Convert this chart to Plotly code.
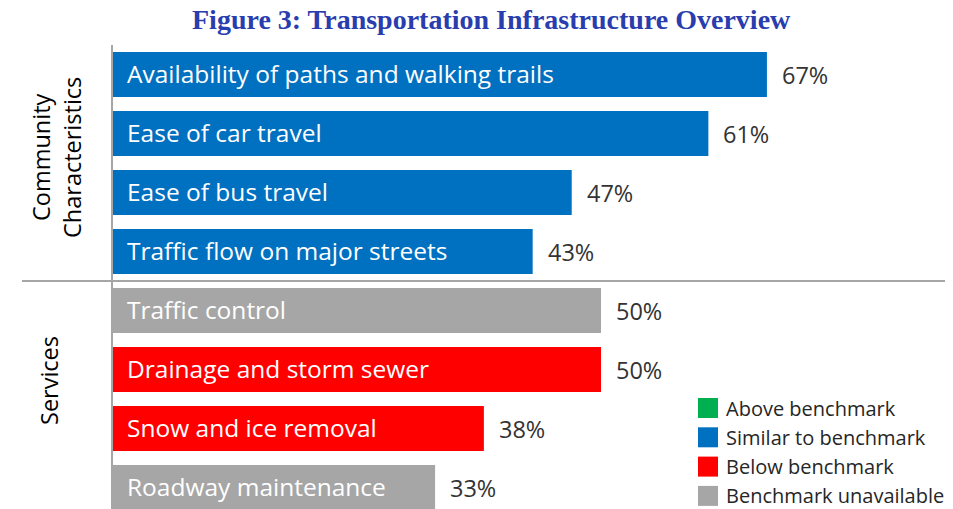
import plotly.graph_objects as go

categories = ["Availability of paths and walking trails", "Ease of car travel",
              "Ease of bus travel", "Traffic flow on major streets",
              "Traffic control", "Drainage and storm sewer",
              "Snow and ice removal", "Roadway maintenance"]
values = [67, 61, 47, 43, 50, 50, 38, 33]
statuses = ["Similar", "Similar", "Similar", "Similar",
            "Unavailable", "Below", "Below", "Unavailable"]
groups = ["Community<br>Characteristics", "Services"]
group_sizes = [4, 4]
legend_keys = ["Above", "Similar", "Below", "Unavailable"]
legend_labels = ["Above benchmark", "Similar to benchmark",
                 "Below benchmark", "Benchmark unavailable"]
colors = {"Above": "#00B050", "Similar": "#0070C0",
          "Below": "#FF0000", "Unavailable": "#A6A6A6"}

# page body has an 8px margin; work in page pixels and convert
OFF = 8
W, H = 953 - OFF, 509 - OFF
L, T = 113 - OFF, 45 - OFF
PW, PH = W - L, H - T
px_per_pct = 9.76
row_px = 59.0


def px_x(px):
    return (px - OFF - L) / PW


def px_y(py):
    return 1 - (py - OFF - T) / PH


ypos = list(range(len(categories)))
fig = go.Figure()
fig.add_trace(go.Bar(
    x=values, y=ypos, orientation="h", width=0.76,
    marker=dict(color=[colors[s] for s in statuses], line=dict(width=0)),
    hoverinfo="skip", showlegend=False))

body_font = "Open Sans, Calibri, sans-serif"
ann = []
for i, (c, v) in enumerate(zip(categories, values)):
    ann.append(dict(x=0, y=i, xref="x", yref="y", text=c, showarrow=False,
                    xanchor="left", yanchor="middle", xshift=12, yshift=1,
                    font=dict(family=body_font, size=24.5, color="#FFFFFF")))
    ann.append(dict(x=v, y=i, xref="x", yref="y", text=f"{v}%", showarrow=False,
                    xanchor="left", yanchor="middle", xshift=13, yshift=0,
                    font=dict(family=body_font, size=23.5, color="#333333")))

shapes = []
start = 0
gshift = [5, 18]
gx = [px_x(56), px_x(49)]
for gi, (g, n) in enumerate(zip(groups, group_sizes)):
    mid = start + (n - 1) / 2
    ann.append(dict(x=gx[gi], y=mid, xref="paper", yref="y", text=g,
                    showarrow=False, textangle=-90, xanchor="center",
                    yanchor="middle", yshift=gshift[gi],
                    font=dict(family=body_font, size=23.5, color="#000000")))
    if gi < len(groups) - 1:
        yb = start + n - 0.5
        shapes.append(dict(type="line", xref="paper", yref="y",
                           x0=px_x(22), x1=1, y0=yb, y1=yb,
                           line=dict(color="#A6A6A6", width=2)))
    start += n

for k, (key, lab) in enumerate(zip(legend_keys, legend_labels)):
    cy = 408 + k * 29.3
    shapes.append(dict(type="rect", xref="paper", yref="paper",
                       x0=px_x(698), x1=px_x(718),
                       y0=px_y(cy + 10), y1=px_y(cy - 10),
                       fillcolor=colors[key], line=dict(width=0)))
    ann.append(dict(x=px_x(724), y=px_y(cy), xref="paper",
                    yref="paper", text=lab, showarrow=False, xanchor="left",
                    yanchor="middle",
                    font=dict(family=body_font, size=20, color="#262626")))

ann.append(dict(x=px_x(491), y=px_y(20), xref="paper", yref="paper",
                text="<b>Figure 3: Transportation Infrastructure Overview</b>",
                showarrow=False, xanchor="center", yanchor="middle",
                font=dict(family="Liberation Serif, serif", size=28, color="#2A3DAE")))

fig.update_layout(
    width=W, height=H, margin=dict(l=L, r=0, t=T, b=0),
    paper_bgcolor="white", plot_bgcolor="white",
    xaxis=dict(range=[0, PW / px_per_pct], visible=False, fixedrange=True),
    yaxis=dict(range=[-0.5 + PH / row_px, -0.5], showticklabels=False,
               showgrid=False, zeroline=False, showline=True,
               linecolor="#A6A6A6", linewidth=2, ticks=""),
    annotations=ann, shapes=shapes)
fig.write_html("out.html")
